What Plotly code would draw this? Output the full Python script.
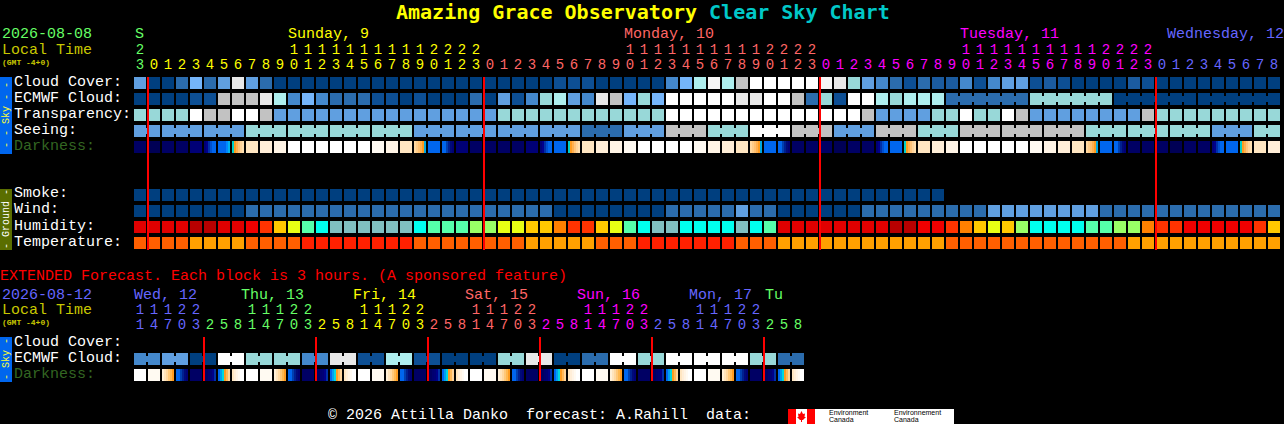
import plotly.graph_objects as go

W = 1284
H = 424
FONT = "Liberation Mono"
TITLE_FONT = "DejaVu Sans Mono"

# block colours, short names are used in the rows below
colors = {
    "c0": "#003f7f", "c1": "#0d4f94", "c2": "#1b5ba0", "c3": "#2b6cad", "c4": "#4488cc",
    "c5": "#609fe0", "c6": "#75b5fa", "c7": "#aeeeee", "c8": "#98d8d8",
    "gr": "#c2c2c2", "e8": "#e8e8e8", "f4": "#f6f6f6", "w": "#ffffff",
    "d8": "#b80000", "e0": "#e00000", "f0": "#f00000", "o3": "#ff3300", "o8": "#ff8000",
    "yc": "#ffc800", "ly": "#e8ff14", "lg": "#99ff66", "mt": "#55ffaa", "cy": "#00ffee", "tl": "#80c0c0",
    "t1": "#ff5f00", "t2": "#ffa000", "t3": "#ff2000",
}

cloud_cover = """c5 c0 c0 c3 c6 c3 c5 e8 c5 c3 c0 c0 c0 c0 c0 c0 c0 c0 c0 c0 c0 c0 c0 c0 c0 c0 c0 c0 c0 c0
c1 c1 c1 c0 c0 c0 c0 c0 c4 c6 c7 f4 c7 gr w w w w w f4 e8 c8 c5 c4 c3 c1 c3 c2 c2 c4 c1 c4 c5 c5 c1 c2 c1
c0 c0 c0 c0 c2 c1 c0 c0 c0 c0 c0 c0 c0 c0 c0""".split()

ecmwf = """c0 c0 c0 c0 c1 c1 gr gr gr e8 c7 c4 c6 c4 c3 c3 c3 c1 c1 c0 c1 c0 c0 c0 c3 c0 c5 c1 c4 c8 c7 c5 c4
e8 gr c6 c8 c6 w w w w w e8 e8 w w gr c3 c8 c1 w w c7 c8 c7 c7 c7 c3 c3 c3 c3 c3 c3 c8 c8 c8 c8 c8 c8
c0 c0 c0 c0 c0 c0 c0 c0 c0 c0 c0 c0""".split()
ecmwf_runs = [(58, 6), (64, 6), (70, 6), (76, 6)]

transparency = """c8 c8 c8 c8 w gr gr w w gr c5 c5 c5 c5 c5 c5 c5 c5 c5 c5 c5 c5 c5 c5 c5 c5
c8 c8 c8 c8 c8 c8 c8 c8 c8 c8 c8 c8 w w w w w w w w w w w w w w gr c5 c5 c5 c5 c8 c8 w c8 c8 w gr
c5 c5 c5 c5 c5 c5 c5 c5 gr c8 c8 c8 c8 c8 c8 c8 c8 c8""".split()

# seeing comes in linked groups of blocks
seeing_sizes = [2, 3, 3, 3, 3, 3, 3, 3, 3, 3, 3, 3, 3, 3, 3, 3, 3, 3, 3, 3, 3, 3, 3, 3, 3, 3, 3, 2]
seeing_values = """c5 c5 c5 c8 c8 c8 c8 c5 c5 c5 c5 c3 c5 gr c8 w gr c5 gr c8 gr gr gr c8 c8 c8 c5 c8""".split()

smoke = """c0 c0 c0 c0 c0 c0 c0 c0 c0 c0 c0 c0 c0 c0 c0 c0 c0 c0 c0 c0 c0 c0 c0 c0 c0 c0 c0 c0 c0
c0 c0 c0 c0 c0 c0 c0 c0 c0 c0 c0 c0 c0 c0 c0 c0 c0 c0 c0 c0 c0 c0 c0 c0 c0 c0 c0 c0 c0""".split()

wind = """c0 c0 c0 c0 c0 c0 c0 c0 c3 c3 c3 c3 c3 c3 c3 c3 c3 c3 c3 c3 c3 c3 c3 c3 c3 c3 c3 c3 c3 c3
c0 c0 c0 c0 c0 c0 c0 c0 c3 c3 c3 c3 c3 c5 c3 c3 c0 c0 c0 c0 c0 c0 c3 c3 c3 c3 c3 c3 c3 c3 c3
c5 c5 c5 c5 c5 c5 c5 c5 c3 c3 c3 c3 c3 c3 c3 c3 c3 c3 c3 c3 c3""".split()

humidity = """e0 e0 e0 e0 d8 d8 e0 e0 f0 o3 yc ly mt cy tl tl tl tl tl tl cy mt mt mt lg lg ly ly yc yc o8 o3 o3
yc ly mt cy tl tl cy cy cy cy tl cy mt e0 e0 e0 e0 e0 e0 e0 e0 d8 d8 f0 f0 o3 o8 yc ly yc lg cy cy cy cy
mt mt lg lg o8 o3 o3 f0 f0 f0 f0 f0 o3 yc""".split()

temperature = """t1 t1 t1 t1 t2 t2 t2 t2 t1 t1 t1 t1 t3 t3 t3 t3 t3 t3 t3 t3 t1 t1 t1 t1 t1 t1 t1 t1 t2 t2 t2 t2 t2
t1 t1 t1 t3 t3 t3 t3 t3 t3 t3 t1 t1 t1 t2 t2 t2 t2 t2 t2 t2 t2 t2 t2 t2 t2 t1 t1 t1 t1 t1 t1 t1 t1 t1 t1
t1 t1 t1 t2 t2 t2 t2 t2 t2 t2 t2 t2 t2 t2""".split()

# each darkness block is six thin stripes
BL = "#0066ee"
dark_strips = {
    "d0": ["#000055"] * 6,
    "d1": ["#000064"] * 6,
    "d2": ["#000076"] * 6,
    "bl": [BL] * 6,
    "w": ["#ffffff"] * 6,
    "f8": ["#fffaf2"] * 6,
    "f5": ["#fff4e6"] * 6,
    "f0": ["#ffeed8"] * 6,
    "e8": ["#ffe6c2"] * 6,
    "rise": ["#000076", "#00008c", "#0030a8", "#0050d0", BL, BL],
    "blc": [BL, BL, BL, BL, "#0088ff", "#00b4f0"],
    "dawn": ["#00d0c8", "#ff9c20", "#ffb050", "#ffc47a", "#ffd49a", "#ffe0b0"],
    "dusk": ["#ffd8a0", "#ffcc88", "#ffc070", "#ffb050", "#ff9c20", "#00a8e0"],
    "fall": [BL, BL, "#0040b0", "#002090", "#000a78", "#000076"],
    "edusk": ["#fff0d8", "#ffe4bc", "#ffd8a0", "#ffc878", "#ffb850", "#ff9c20"],
    "erise": ["#000064", "#000064", "#000070", "#000076", "#000088", "#0030a8"],
    "edawn": [BL, "#00a0f0", "#00d8e0", "#ff9c20", "#ffb858", "#ffd49a"],
    "elight": ["#ffe6c2", "#ffeed8", "#fff4e6", "#fffaf2", "#ffffff", "#ffffff"],
}
darkness = """d1 d0 d1 d1 d2 rise blc dawn e8 f0 f5 w w w w w w f8 f5 e8 dusk bl fall d2 d1 d1 d1 d1 d2
rise bl dawn e8 f0 f5 f8 w w w w f8 f5 f0 e8 dusk bl fall d1 d1 d1 d0 d1 d1
rise bl dawn e8 f0 f5 w w w w w f8 f5 f0 e8 dusk bl fall d1 d1 d1 d0 d1 d1
rise bl dawn e8 f0""".split()

hours_ones = "3012345678901234567890123012345678901234567890123012345678901234567890123012345678"
hours_tens = ("2          1111111111" + "2222" + "          1111111111" + "2222"
              + "          1111111111" + "2222" + "         ")
hour_colors = [("#66ff66", 1), ("#ffff00", 24), ("#ff6666", 24), ("#ff00ff", 24), ("#6666ff", 9)]
midnights = [1, 25, 49, 73]

# extended forecast, 3 hour blocks
ext_ecmwf_pairs = """c4 c5 c0 w c8 c8 c4 e8 c1 c7 c1 c0 c0 c8 e8 c0 c3 w c8 w w w c8 c3""".split()
ext_darkness = """w f8 edusk fall d1 erise edawn elight w f8 edusk fall d1 erise edawn elight
w f8 edusk fall d1 erise edawn elight w f8 edusk fall d1 erise edawn elight
w f8 edusk fall d1 erise edawn elight w f8 edusk fall d1 erise edawn elight""".split()
ext_ones = "147032581470325814703258147032581470325814703258"
ext_tens = "11122   11122   11122   11122   11122   11122   "
ext_colors = [("#6666ff", 5), ("#66ff66", 8), ("#ffff00", 8), ("#ff6666", 8), ("#ff00ff", 8), ("#6666ff", 8), ("#66ff66", 3)]
ext_midnights = [5, 13, 21, 29, 37, 45]

top_days = [("S", 135, "#66ff66"), ("Sunday, 9", 288, "#ffff00"), ("Monday, 10", 624, "#ff6666"),
            ("Tuesday, 11", 960, "#ff00ff"), ("Wednesday, 12", 1167, "#6666ff")]
ext_days = [("Wed, 12", 134, "#6666ff"), ("Thu, 13", 241, "#66ff66"), ("Fri, 14", 353, "#ffff00"),
            ("Sat, 15", 465, "#ff6666"), ("Sun, 16", 577, "#ff00ff"), ("Mon, 17", 689, "#6666ff"), ("Tu", 765, "#66ff66")]

row_labels = [("Cloud Cover:", 82, "#ffffff"), ("ECMWF Cloud:", 98, "#ffffff"), ("Transparency:", 114, "#ffffff"),
              ("Seeing:", 130, "#ffffff"), ("Darkness:", 146, "#336622"),
              ("Smoke:", 194, "#ffffff"), ("Wind:", 210, "#ffffff"), ("Humidity:", 226, "#ffffff"),
              ("Temperature:", 242, "#ffffff"),
              ("Cloud Cover:", 342, "#ffffff"), ("ECMWF Cloud:", 358, "#ffffff"), ("Darkness:", 374, "#336622")]

# global list of colours for the heatmaps, darkness stripes included
palette = list(colors.values())
for strip in dark_strips.values():
    for c in strip:
        if c not in palette:
            palette.append(c)
colorscale = [[i / (len(palette) - 1), c] for i, c in enumerate(palette)]


def px_x(px):
    return px / W


def px_y(py):
    return 1 - py / H


def row_y(py):
    return (py - 83) / 16


def expand(sizes, values):
    out = []
    for n, v in zip(sizes, values):
        out += [v] * n
    return out


def add_blocks(fig, names, y):
    z = [[palette.index(colors[n]) for n in names]]
    fig.add_trace(go.Heatmap(x=list(range(len(names))), y=[y], z=z, xgap=2, ygap=4, colorscale=colorscale,
                             zmin=0, zmax=len(palette) - 1, showscale=False, hoverinfo="skip"))


def add_stripes(fig, names, y):
    xs = []
    vals = []
    for i, n in enumerate(names):
        for k, c in enumerate(dark_strips[n]):
            xs.append(i + (k - 2.5) / 7)
            vals.append(palette.index(c))
        xs.append(i + 3.5 / 7)
        vals.append(None)
    fig.add_trace(go.Heatmap(x=xs, y=[y], z=[vals], ygap=4, colorscale=colorscale, zmin=0, zmax=len(palette) - 1,
                             showscale=False, hoverinfo="skip", hoverongaps=False))


def add_links(fig, names, runs, y):
    # the narrow bridge between blocks that belong together
    for start, n in runs:
        fig.add_trace(go.Scatter(x=[start, start + n - 1], y=[y, y], mode="lines", hoverinfo="skip",
                                 line=dict(color=colors[names[start]], width=6)))


def add_digits(fig, text, color_runs, y):
    cols = expand([n for _, n in color_runs], [c for c, _ in color_runs])
    fig.add_trace(go.Scatter(x=list(range(len(text))), y=[y] * len(text), mode="text", text=list(text),
                             textposition="middle center", hoverinfo="skip",
                             textfont=dict(family=FONT, size=14, color=cols)))


def add_red(fig, cols, y0, y1):
    xs = []
    ys = []
    for c in cols:
        xs += [c - 3 / 7, c - 3 / 7, None]
        ys += [y0, y1, None]
    fig.add_trace(go.Scatter(x=xs, y=ys, mode="lines", line=dict(color="#ff0000", width=2), hoverinfo="skip"))


def label(fig, text, x, y, color, size=15, bold=False, family=FONT, anchor="left", angle=0):
    if bold:
        text = "<b>" + text + "</b>"
    fig.add_annotation(x=px_x(x), y=px_y(y), xref="paper", yref="paper", text=text, showarrow=False,
                       xanchor=anchor, yanchor="middle", textangle=angle, borderpad=0, borderwidth=0,
                       font=dict(family=family, size=size, color=color))


def rect(fig, x0, y0, x1, y1, color):
    fig.add_shape(type="rect", xref="paper", yref="paper", x0=px_x(x0), x1=px_x(x1), y0=px_y(y0), y1=px_y(y1),
                  fillcolor=color, line_width=0, layer="above")


fig = go.Figure()

seeing = expand(seeing_sizes, seeing_values)
ext_ecmwf = expand([2] * len(ext_ecmwf_pairs), ext_ecmwf_pairs)

add_blocks(fig, cloud_cover, 0)
add_blocks(fig, ecmwf, 1)
add_blocks(fig, transparency, 2)
add_blocks(fig, seeing, 3)
add_stripes(fig, darkness, 4)
add_blocks(fig, smoke, 7)
add_blocks(fig, wind, 8)
add_blocks(fig, humidity, 9)
add_blocks(fig, temperature, 10)
add_blocks(fig, ext_ecmwf, row_y(359))
add_stripes(fig, ext_darkness, row_y(375))

add_links(fig, ecmwf, ecmwf_runs, 1)
starts = [sum(seeing_sizes[:i]) for i in range(len(seeing_sizes))]
add_links(fig, seeing, list(zip(starts, seeing_sizes)), 3)
add_links(fig, ext_ecmwf, [(i * 2, 2) for i in range(len(ext_ecmwf_pairs))], row_y(359))

add_red(fig, midnights, row_y(77), row_y(250))
add_red(fig, ext_midnights, row_y(337), row_y(381))

add_digits(fig, hours_tens, hour_colors, row_y(50))
add_digits(fig, hours_ones, hour_colors, row_y(65))
add_digits(fig, ext_tens, ext_colors, row_y(310))
add_digits(fig, ext_ones, ext_colors, row_y(325))

label(fig, '<span style="color:#ffff00">Amazing Grace Observatory</span> '
           '<span style="color:#00c8c8">Clear Sky Chart</span>', 396, 12, "#ffff00", size=20, bold=True,
      family=TITLE_FONT)
label(fig, "2026-08-08", 2, 35, "#66ff66")
label(fig, "Local Time", 2, 50, "#c8c800")
label(fig, "(GMT -4+0)", 2, 62, "#c8c800", size=8, bold=True)
label(fig, "EXTENDED Forecast. Each block is 3 hours. (A sponsored feature)", 0, 276, "#ff0000")
label(fig, "2026-08-12", 2, 295, "#6666ff")
label(fig, "Local Time", 2, 310, "#c8c800")
label(fig, "(GMT -4+0)", 2, 322, "#c8c800", size=8, bold=True)
label(fig, "\u00a9 2026 Attilla Danko  forecast: A.Rahill  data:", 328, 415, "#ffffff")

for text, x, col in top_days:
    label(fig, text, x, 35, col)
for text, x, col in ext_days:
    label(fig, text, x, 295, col)
for text, y, col in row_labels:
    label(fig, text, 14, y, col)

# side bars
rect(fig, 0, 77, 12, 154, "#0066ee")
rect(fig, 0, 189, 12, 250, "#5a6e00")
rect(fig, 0, 337, 12, 382, "#0066ee")
label(fig, "- - Sky - -", 6, 115, "#ffff33", size=10, anchor="center", angle=-90)
label(fig, "- Ground -", 6, 219, "#ffffff", size=10, anchor="center", angle=-90)
label(fig, "- Sky -", 6, 359, "#ffff33", size=10, anchor="center", angle=-90)

# data provider logo
rect(fig, 788, 409, 954, 424, "#ffffff")
rect(fig, 788, 409, 796, 424, "#ff0000")
rect(fig, 807, 409, 815, 424, "#ff0000")
leaf = [(801.5, 411), (803, 414), (805, 413.5), (804.5, 417), (806, 417), (803, 420), (802, 420), (802, 422),
        (801, 422), (801, 420), (800, 420), (797, 417), (798.5, 417), (798, 413.5), (800, 414)]
path = "M " + " L ".join(f"{px_x(x):.5f},{px_y(y):.5f}" for x, y in leaf) + " Z"
fig.add_shape(type="path", xref="paper", yref="paper", path=path, fillcolor="#ff0000", line_width=0, layer="above")
label(fig, "Environment", 829, 412, "#000000", size=7, family="Liberation Sans")
label(fig, "Canada", 829, 419.5, "#000000", size=7, family="Liberation Sans")
label(fig, "Environnement", 894, 412, "#000000", size=7, family="Liberation Sans")
label(fig, "Canada", 894, 419.5, "#000000", size=7, family="Liberation Sans")

fig.update_layout(width=W, height=H, margin=dict(l=0, r=0, t=0, b=0), paper_bgcolor="#000000",
                  plot_bgcolor="#000000", showlegend=False)
fig.update_xaxes(range=[-140 / 14, (W - 140) / 14], visible=False, fixedrange=True)
fig.update_yaxes(range=[(H - 83) / 16, -83 / 16], visible=False, fixedrange=True)

fig.write_html("out.html", config={"displayModeBar": False},
               post_script="document.body.style.margin='0';document.body.style.overflow='hidden';")
